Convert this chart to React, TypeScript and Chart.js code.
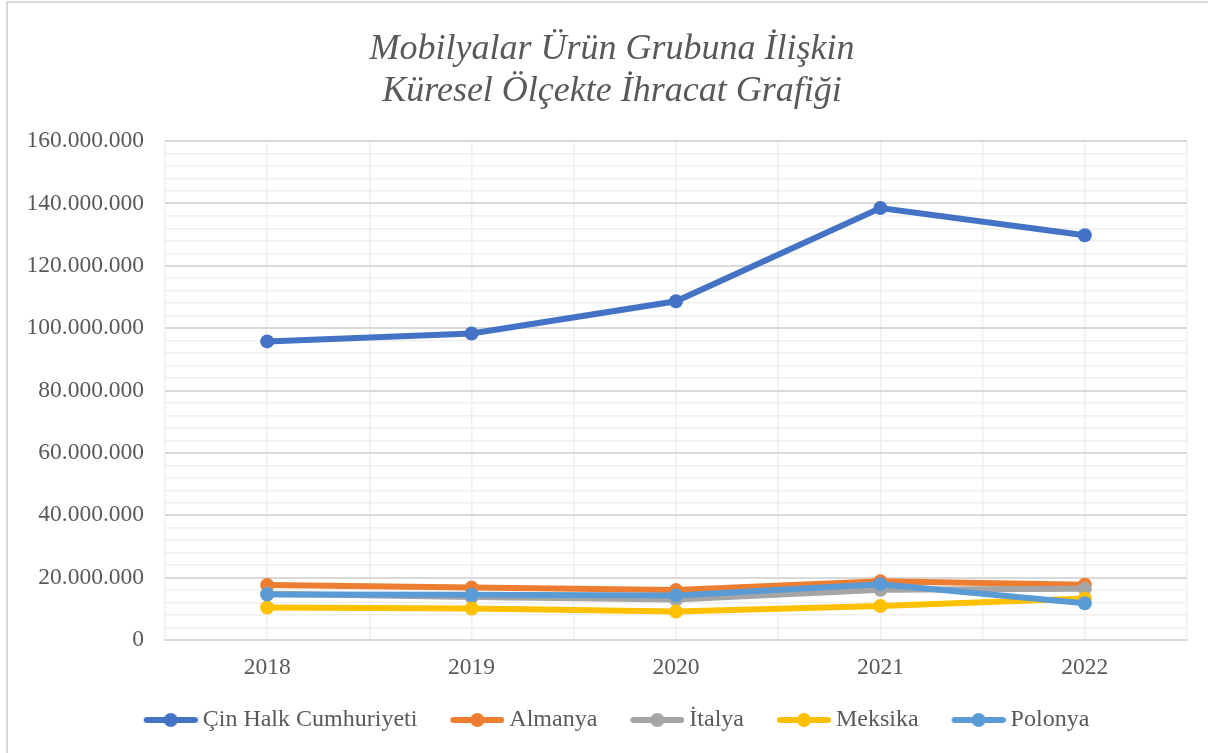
import React, { useEffect, useRef } from "react";
import { Chart, registerables } from "chart.js";

Chart.register(...registerables);

const chartTitle = ["Mobilyalar Ürün Grubuna İlişkin", "Küresel Ölçekte İhracat Grafiği"];
const years = [2018, 2019, 2020, 2021, 2022];
const seriesNames = ["Çin Halk Cumhuriyeti", "Almanya", "İtalya", "Meksika", "Polonya"];
const cinHalk = [95740000, 98300000, 108600000, 138500000, 129800000];
const almanya = [17600000, 16800000, 16000000, 18800000, 17700000];
const italya = [14800000, 13800000, 13000000, 16100000, 16400000];
const meksika = [10400000, 10100000, 9100000, 10900000, 13300000];
const polonya = [14600000, 14500000, 14300000, 17900000, 11800000];
const seriesColors = ["#4472C4", "#ED7D31", "#A5A5A5", "#FFC000", "#5B9BD5"];
const yMax = 160000000;
const yMinorStep = 4000000;
const yMajorStep = 20000000;

const FONT = "'Liberation Serif', 'Times New Roman', serif";
const TEXT = "#595959";
const CW = 1224;
const CH = 753;

function fmt(v: number): string {
  return Math.round(v).toString().replace(/\B(?=(\d{3})+(?!\d))/g, ".");
}

function legendIcon(color: string): HTMLCanvasElement {
  const W = 70;
  const c = document.createElement("canvas");
  c.width = W;
  c.height = 16;
  const g = c.getContext("2d")!;
  g.strokeStyle = color;
  g.lineWidth = 6;
  g.lineCap = "round";
  g.beginPath();
  g.moveTo(W - 54 + 3, 8);
  g.lineTo(W - 3, 8);
  g.stroke();
  g.fillStyle = color;
  g.beginPath();
  g.arc(W - 27, 8, 7, 0, Math.PI * 2);
  g.fill();
  return c;
}

export default function App() {
  const ref = useRef<HTMLCanvasElement | null>(null);
  useEffect(() => {
    if (!ref.current) return;
    const all = [cinHalk, almanya, italya, meksika, polonya];
    const icons = seriesColors.map(legendIcon);
    const chart = new Chart(ref.current, {
      type: "line",
      data: {
        datasets: all.map((vals, i) => ({
          label: seriesNames[i],
          data: years.map((y, j) => ({ x: y, y: vals[j] })),
          borderColor: seriesColors[i],
          backgroundColor: seriesColors[i],
          borderWidth: 6,
          pointRadius: 7,
          pointBorderWidth: 0,
          pointStyle: "circle",
          tension: 0,
          order: 4 - i,
        })),
      },
      options: {
        responsive: false,
        animation: false,
        events: [],
        layout: { padding: { left: 0, right: 0, top: 0, bottom: 11 } },
        scales: {
          x: {
            type: "linear",
            min: 2017.5,
            max: 2022.5,
            afterFit: (s: any) => {
              s.height = 44;
            },
            ticks: {
              stepSize: 0.5,
              autoSkip: false,
              maxRotation: 0,
              padding: 14,
              color: TEXT,
              font: { family: FONT, size: 23.5 },
              callback: (v: any) => (Number.isInteger(Number(v)) ? String(v) : ""),
            },
            grid: { color: "#efefef", lineWidth: 1.5, drawTicks: false },
            border: { display: true, color: "#d9d9d9", width: 2 },
          },
          y: {
            min: 0,
            max: yMax,
            afterFit: (s: any) => {
              s.width = 165;
            },
            ticks: {
              stepSize: yMinorStep,
              autoSkip: false,
              maxTicksLimit: 100,
              padding: 21,
              color: TEXT,
              font: { family: FONT, size: 23.5 },
              callback: (v: any) => (Number(v) % yMajorStep === 0 ? fmt(Number(v)) : ""),
            },
            grid: {
              drawTicks: false,
              color: (ctx: any) => (ctx.tick && ctx.tick.value % yMajorStep === 0 ? "#d9d9d9" : "#efefef"),
              lineWidth: (ctx: any) => (ctx.tick && ctx.tick.value % yMajorStep === 0 ? 2 : 1.5),
            },
            border: { display: false },
          },
          yRightSpace: {
            type: "linear",
            position: "right",
            display: true,
            afterFit: (s: any) => {
              s.width = CW - 1187;
            },
            ticks: { display: false },
            grid: { display: false, drawTicks: false },
            border: { display: false },
          },
        },
        plugins: {
          tooltip: { enabled: false },
          title: {
            display: true,
            text: chartTitle,
            color: TEXT,
            font: { family: FONT, size: 36, style: "italic", weight: "normal", lineHeight: 42 / 36 },
            padding: { top: 29, bottom: 28 },
          },
          legend: {
            position: "bottom",
            labels: {
              usePointStyle: true,
              pointStyleWidth: 56,
              padding: 24,
              color: TEXT,
              font: { family: FONT, size: 24 },
              sort: (a: any, b: any) => a.datasetIndex - b.datasetIndex,
              generateLabels: (ch: any) =>
                ch.data.datasets.map((d: any, i: number) => ({
                  text: d.label,
                  fillStyle: seriesColors[i],
                  strokeStyle: seriesColors[i],
                  lineWidth: 0,
                  pointStyle: icons[i],
                  hidden: false,
                  datasetIndex: i,
                  fontColor: TEXT,
                })),
            },
          },
        },
      } as any,
    });
    return () => chart.destroy();
  }, []);
  return (
    <div style={{ position: "fixed", left: 0, top: 0, width: 1208, height: 753, overflow: "hidden", background: "#fff" }}>
      <div
        style={{
          position: "absolute",
          left: 6,
          top: 1,
          width: 1260,
          height: 800,
          borderLeft: "2px solid #d9d9d9",
          borderTop: "2px solid #d9d9d9",
          boxSizing: "border-box",
        }}
      />
      <canvas ref={ref} width={CW} height={CH} style={{ position: "absolute", left: 0, top: 0, width: CW, height: CH }} />
    </div>
  );
}
